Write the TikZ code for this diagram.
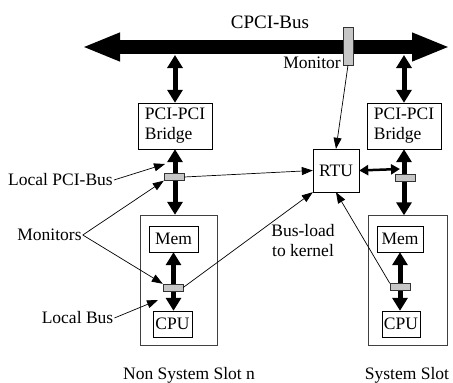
\documentclass[tikz,border=0pt]{standalone}
\usepackage{fontspec}
\setmainfont{Liberation Serif}
\usetikzlibrary{arrows.meta, positioning, calc}

\begin{document}
\begin{tikzpicture}[x=1pt, y=-1pt]
\tikzstyle{box}=[draw=black, minimum height=26pt, inner sep=0pt, fill=white]
\tikzstyle{slot}=[draw=black!75, minimum width=77pt, minimum height=130pt]
\tikzstyle{monitor}=[draw=black!80, fill=gray!45, minimum width=20pt, minimum height=7pt, inner sep=0pt]
\tikzstyle{dbl}=[line width=5pt, {Triangle[length=13pt,width=15pt]}-{Triangle[length=13pt,width=15pt]}]
\tikzstyle{annot}=[line width=0.7pt, -{Triangle[length=11pt,width=8pt]}]
\tikzstyle{lbl}=[inner sep=1pt, font=\fontsize{17.5}{20}\selectfont]

\useasboundingbox (0,0) rectangle (453,383);

% CPCI bus
\coordinate (busL) at (82,47);
\coordinate (busR) at (450,47);
\draw [line width=14pt, {Triangle[length=38pt,width=26pt]}-{Triangle[length=38pt,width=26pt]}] (busL) -- (busR);
\node (cpci) at (270,22) [lbl, font=\fontsize{19}{22}\selectfont] {CPCI-Bus};
\node (mon) at (348,46) [monitor, minimum width=10pt, minimum height=38pt] {};
\node (monlbl) at (342,63) [lbl, anchor=east] {Monitor};

% bridges and RTU
\node (bridgeL) at (175,126) [box, minimum width=74pt, minimum height=46pt, align=left, lbl] {PCI-PCI\\Bridge};
\node (bridgeR) at (404,126) [box, minimum width=74pt, minimum height=46pt, align=left, lbl] {PCI-PCI\\Bridge};
\node (rtu) at (336,170.5) [box, minimum width=46pt, minimum height=43pt, lbl] {RTU};

\coordinate (tapL) at (175,55);
\coordinate (tapR) at (404,55);
\draw [dbl] (tapL) -- (bridgeL.north);
\draw [dbl] (tapR) -- (bridgeR.north);

% slots
\node (slotL) at (178.5,280) [slot] {};
\node (slotR) at (407.5,280.5) [slot, minimum width=79pt] {};

\node (memL) at (173.5,239) [box, minimum width=49pt, lbl] {Mem};
\node (cpuL) at (172.5,324) [box, minimum width=39pt, lbl] {CPU};
\node (memR) at (400,239) [box, minimum width=46pt, lbl] {Mem};
\node (cpuR) at (401,324) [box, minimum width=38pt, lbl] {CPU};

% local PCI buses
\draw [dbl] (bridgeL.south) -- (bridgeL.south |- slotL.north);
\draw [dbl] (bridgeR.south) -- (bridgeR.south |- slotR.north);
\coordinate (pciR) at (400,169);
\draw [line width=2.5pt, {Triangle[length=9pt,width=10pt]}-{Triangle[length=9pt,width=10pt]}] (rtu.east) -- (pciR);
\node (pciMonL) at (174,177) [monitor] {};
\node (pciMonR) at (405,178) [monitor] {};

% local buses
\draw [dbl] (memL.south) -- (memL.south |- cpuL.north);
\draw [dbl] (memR.south) -- (memR.south |- cpuR.north);
\node (busMonL) at (173,287.5) [monitor] {};
\node (busMonR) at (400,287) [monitor] {};

% monitor lines to RTU
\draw [annot] (mon.south) -- (rtu.north);
\draw [annot] (pciMonL.east) -- (rtu.west);
\draw [annot] (busMonL.east) -- (rtu.south west);
\draw [annot] (busMonR.north west) -- (rtu.south);
\node (busload) at (303,241) [lbl, align=center] {Bus-load\\to kernel};

% labels on the left
\node (lpci) at (60.5,180) [lbl] {Local PCI-Bus};
\coordinate (lpciTip) at (165,164);
\draw [annot] (lpci.east) -- (lpciTip);
\node (mons) at (49.5,235) [lbl] {Monitors};
\draw [annot] (mons.east) -- (pciMonL.south west);
\draw [annot] (mons.east) -- (busMonL.north west);
\node (lbus) at (77.5,318) [lbl] {Local Bus};
\coordinate (lbusTip) at (158,300);
\draw [annot] (lbus.east) -- (lbusTip);

\node (nonsys) at (189,375) [lbl] {Non System Slot n};
\node (sys) at (407,375) [lbl] {System Slot};
\end{tikzpicture}
\end{document}
